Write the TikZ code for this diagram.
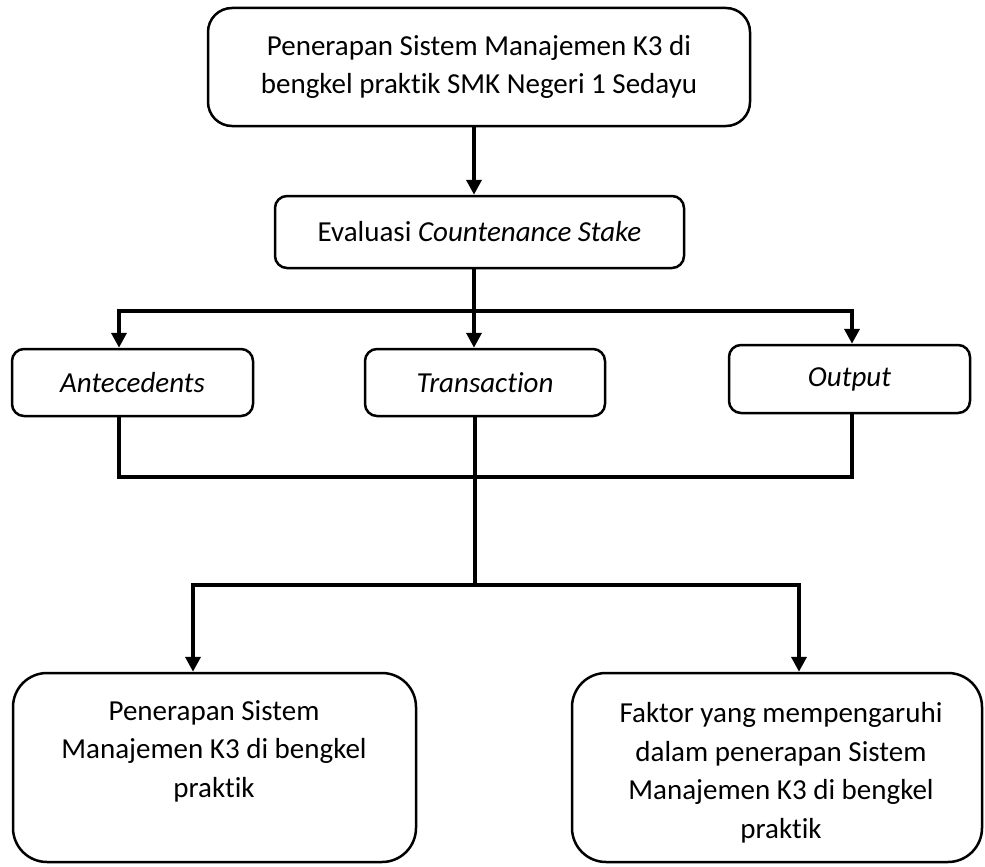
\documentclass[tikz,border=0pt]{standalone}
\usepackage{fontspec}
\setmainfont{Carlito}[Ligatures=NoCommon]
\usetikzlibrary{arrows.meta}
\begin{document}
\begin{tikzpicture}[x=1pt,y=-1pt,
  every node/.style={font=\fontsize{29}{38.5}\selectfont},
  box/.style={draw, line width=2.5pt, rounded corners=#1, inner sep=0pt, align=center},
  box/.default=12pt,
  conn/.style={line width=4pt, line join=miter},
  arr/.style={conn, -{Triangle[width=15pt,length=15pt]}},
  txt/.style={align=center, inner sep=0pt}]
\useasboundingbox (0,0) rectangle (985,867);
% boxes
\node[box=24pt, minimum width=542pt, minimum height=118pt] (top) at (479,67)
  {Penerapan Sistem Manajemen K3 di\\bengkel praktik SMK Negeri 1 Sedayu};
\node[box, minimum width=409pt, minimum height=72pt] (eval) at (479.5,232)
  {Evaluasi \textit{Countenance Stake}};
\node[box, minimum width=241pt, minimum height=67pt] (ante) at (132.5,382.5)
  {\textit{Antecedents}};
\node[box, minimum width=240pt, minimum height=67pt] (trans) at (485,382.5)
  {\textit{Transaction}};
\node[box, minimum width=241pt, minimum height=68pt] (out) at (849.5,379)
  {\textit{Output}};
\node[box=34pt, minimum width=403pt, minimum height=189pt] (lb) at (214.5,767.5) {};
\node[box=34pt, minimum width=410pt, minimum height=189pt] (rb) at (777,767.5) {};
\node[txt] (lbt) at (214,751)
  {Penerapan Sistem\\Manajemen K3 di bengkel\\praktik};
\node[txt] (rbt) at (781,773)
  {Faktor yang mempengaruhi\\dalam penerapan Sistem\\Manajemen K3 di bengkel\\praktik};
% junction coordinates
\coordinate (j1) at (474,311);
\coordinate (jl) at (119,311);
\coordinate (jr) at (852,311);
\coordinate (k1) at (119,477);
\coordinate (k2) at (852,477);
\coordinate (m) at (475,585);
\coordinate (ml) at (193,585);
\coordinate (mr) at (799,585);
% connectors
\draw[arr] (top.south -| j1) -- (eval.north -| j1);
\draw[conn] (eval.south -| j1) -- (j1);
\draw[arr] (j1) -- (jl) -- (ante.north -| jl);
\draw[arr] (j1) -- (jr) -- (out.north -| jr);
\draw[arr] (j1) -- (trans.north -| j1);
\draw[conn] (ante.south -| k1) -- (k1) -- (k2) -- (out.south -| k2);
\draw[conn] (trans.south -| m) -- (m);
\draw[arr] (m) -- (ml) -- (lb.north -| ml);
\draw[arr] (m) -- (mr) -- (rb.north -| mr);
\end{tikzpicture}
\end{document}
